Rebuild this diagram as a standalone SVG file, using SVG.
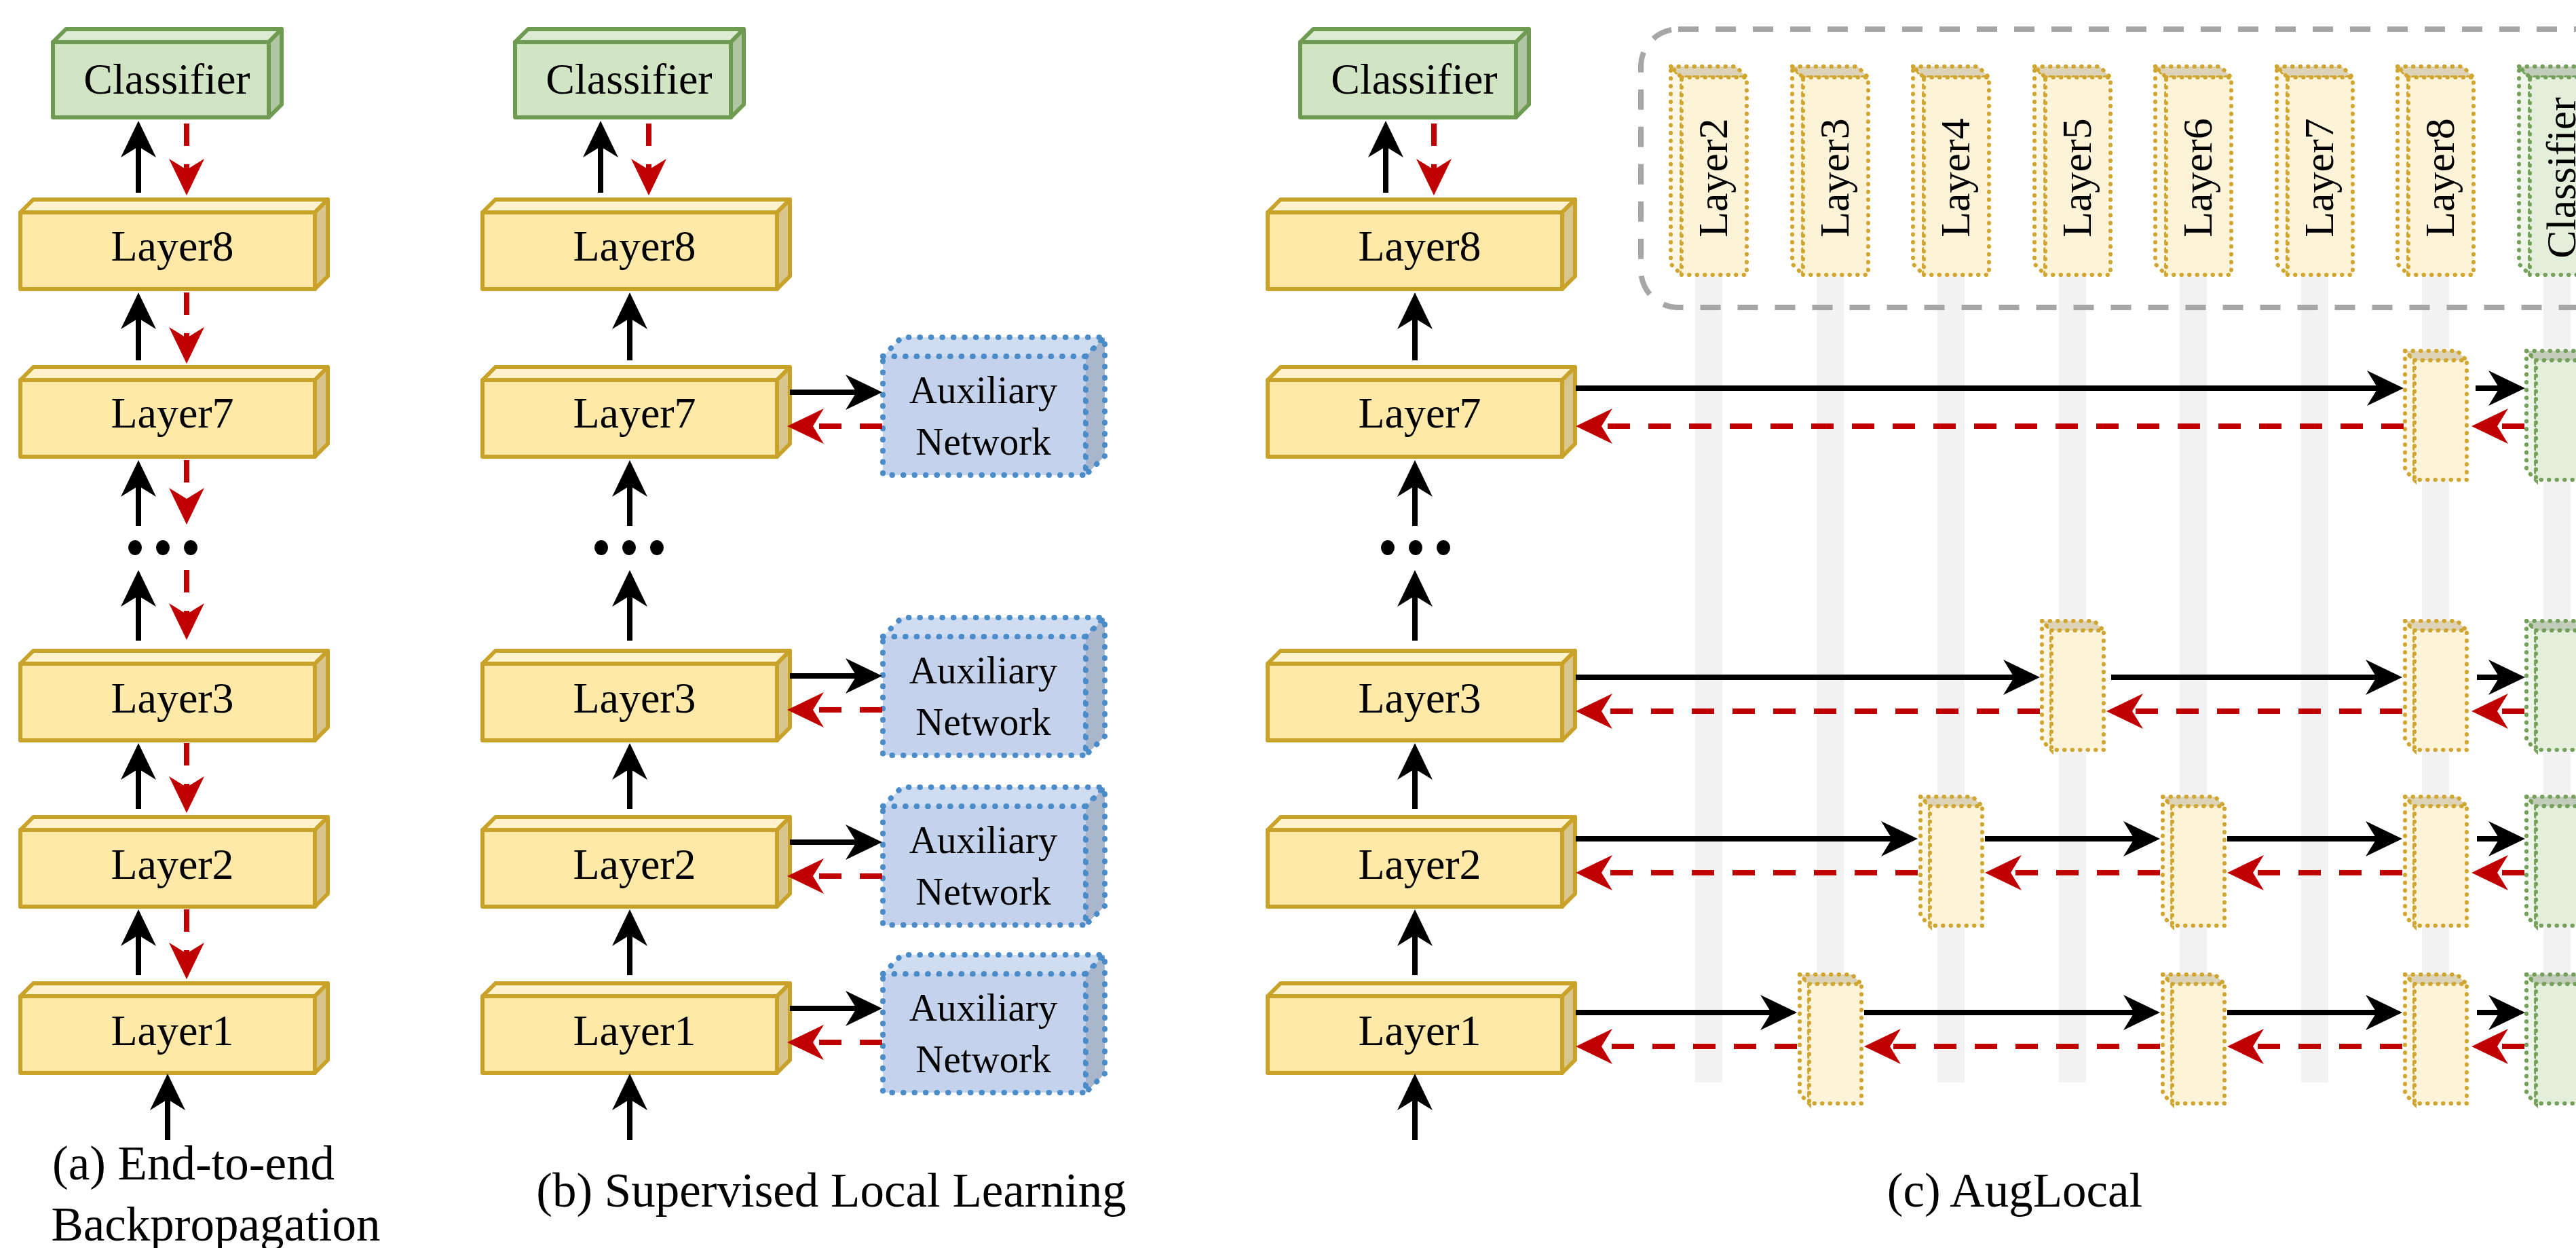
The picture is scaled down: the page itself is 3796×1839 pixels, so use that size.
<svg xmlns="http://www.w3.org/2000/svg" width="3796" height="1839" viewBox="0 0 3796 1839">
<style>
.t{font-family:"Liberation Serif","Times New Roman",serif;fill:#000}
.lbl{font-size:64px;text-anchor:middle}
.aux{font-size:57px;text-anchor:middle}
.vl{font-size:62px;text-anchor:middle}
.cap{font-size:71px;text-anchor:middle}
.ls{stroke:#C9A22A;stroke-width:6;stroke-linejoin:round}
.lf{fill:#FFE9A8}.lt{fill:#FFF2CC}.lr{fill:#D9C68F}
.cs{stroke:#6E9A51;stroke-width:6;stroke-linejoin:round}
.cf{fill:#D1E5C5}.ct{fill:#DDEBD4}.cr{fill:#B0C6A3}
.as{stroke:#4A8CC9;stroke-width:8;stroke-linecap:round;stroke-dasharray:0.5 16}
.af{fill:#C4D3EB}.at{fill:#D0DDF0}.ar{fill:#A9B6CC}
.ys{stroke:#D1A630;stroke-width:6;stroke-linecap:round;stroke-dasharray:0.5 11}
.yf{fill:#FDF3D9}.yt{fill:#DCD3B8}.yl{fill:#FEF7E6}
.gs{stroke:#74A05A;stroke-width:6;stroke-linecap:round;stroke-dasharray:0.5 11}
.gf{fill:#E3EFDB}.gt{fill:#C2CCBA}.gl{fill:#EEF5E9}
.bk{fill:none;stroke:#000;stroke-width:8}
.rd{fill:none;stroke:#C00000;stroke-width:8;stroke-dasharray:33 27}
.bar{fill:#F2F2F2}
.dot{fill:#000}
</style>
<defs>
<marker id="mb" markerUnits="userSpaceOnUse" markerWidth="60" markerHeight="60" refX="16" refY="26" orient="auto" overflow="visible"><path d="M0,0L54,26L0,52L16,26Z" fill="#000"/></marker>
<marker id="mr" markerUnits="userSpaceOnUse" markerWidth="60" markerHeight="60" refX="16" refY="26" orient="auto" overflow="visible"><path d="M0,0L54,26L0,52L16,26Z" fill="#C00000"/></marker>
<g id="cubeL">
<path class="lf ls" d="M0,19H434V132H0Z"/>
<path class="lt ls" d="M0,19L19,0H453L434,19Z"/>
<path class="lr ls" d="M434,19L453,0V113L434,132Z"/>
</g>
<g id="cubeC">
<path class="cf cs" d="M0,19H318V130H0Z"/>
<path class="ct cs" d="M0,19L19,0H337L318,19Z"/>
<path class="cr cs" d="M318,19L337,0V111L318,130Z"/>
</g>
<g id="cubeA">
<path class="af as" d="M0,28H299V203H0Z"/>
<path class="at as" d="M0,28L28,0H327L299,28Z"/>
<path class="ar as" d="M299,28L327,0V175L299,203Z"/>
</g>
<g id="vbY">
<path class="yl ys" d="M0,0L16,16V307L0,291Z"/>
<path class="yt ys" d="M0,0H96L112,16H16Z"/>
<path class="yf ys" d="M16,16H112V307H16Z"/>
</g>
<g id="vbG">
<path class="gl gs" d="M0,0L16,16V307L0,291Z"/>
<path class="gt gs" d="M0,0H96L112,16H16Z"/>
<path class="gf gs" d="M16,16H112V307H16Z"/>
</g>
<g id="vsY">
<path class="yl ys" d="M0,0L14,14V190L0,176Z"/>
<path class="yt ys" d="M0,0H77L91,14H14Z"/>
<path class="yf ys" d="M14,14H91V190H14Z"/>
</g>
<g id="vsG">
<path class="gl gs" d="M0,0L14,14V190L0,176Z"/>
<path class="gt gs" d="M0,0H77L91,14H14Z"/>
<path class="gf gs" d="M14,14H91V190H14Z"/>
</g>
</defs>

<g id="c-bars">
<rect class="bar" x="2498" y="370" width="40" height="1225"/>
<rect class="bar" x="2677" y="370" width="40" height="1225"/>
<rect class="bar" x="2855" y="370" width="40" height="1225"/>
<rect class="bar" x="3034" y="370" width="40" height="1225"/>
<rect class="bar" x="3212" y="370" width="40" height="1225"/>
<rect class="bar" x="3391" y="370" width="40" height="1225"/>
<rect class="bar" x="3569" y="370" width="40" height="1225"/>
<rect class="bar" x="3748" y="370" width="40" height="1225"/>
</g>

<g id="c-group-frame">
<rect x="2418" y="43" width="1500" height="410" rx="55" ry="55" fill="none" stroke="#A6A6A6" stroke-width="8" stroke-dasharray="30 25"/>
</g>

<g id="a-classifier"><use href="#cubeC" x="78" y="43"/><text class="t lbl" x="246" y="138">Classifier</text></g>
<g id="a-layer8"><use href="#cubeL" x="30" y="294"/><text class="t lbl" x="254" y="384">Layer8</text></g>
<g id="a-layer7"><use href="#cubeL" x="30" y="541"/><text class="t lbl" x="254" y="630">Layer7</text></g>
<g id="a-dots"><ellipse class="dot" cx="199" cy="807" rx="10" ry="11"/><ellipse class="dot" cx="240" cy="807" rx="10" ry="11"/><ellipse class="dot" cx="281" cy="807" rx="10" ry="11"/></g>
<g id="a-layer3"><use href="#cubeL" x="30" y="959"/><text class="t lbl" x="254" y="1050">Layer3</text></g>
<g id="a-layer2"><use href="#cubeL" x="30" y="1204"/><text class="t lbl" x="254" y="1295">Layer2</text></g>
<g id="a-layer1"><use href="#cubeL" x="30" y="1449"/><text class="t lbl" x="254" y="1540">Layer1</text></g>

<g id="b-classifier"><use href="#cubeC" x="759" y="43"/><text class="t lbl" x="927" y="138">Classifier</text></g>
<g id="b-layer8"><use href="#cubeL" x="711" y="294"/><text class="t lbl" x="935" y="384">Layer8</text></g>
<g id="b-layer7"><use href="#cubeL" x="711" y="541"/><text class="t lbl" x="935" y="630">Layer7</text></g>
<g id="b-dots"><ellipse class="dot" cx="886" cy="807" rx="10" ry="11"/><ellipse class="dot" cx="927" cy="807" rx="10" ry="11"/><ellipse class="dot" cx="968" cy="807" rx="10" ry="11"/></g>
<g id="b-layer3"><use href="#cubeL" x="711" y="959"/><text class="t lbl" x="935" y="1050">Layer3</text></g>
<g id="b-layer2"><use href="#cubeL" x="711" y="1204"/><text class="t lbl" x="935" y="1295">Layer2</text></g>
<g id="b-layer1"><use href="#cubeL" x="711" y="1449"/><text class="t lbl" x="935" y="1540">Layer1</text></g>
<g id="b-aux7"><use href="#cubeA" x="1301" y="497"/><text class="t aux" x="1449" y="594">Auxiliary</text><text class="t aux" x="1449" y="670">Network</text></g>
<g id="b-aux3"><use href="#cubeA" x="1301" y="910"/><text class="t aux" x="1449" y="1007">Auxiliary</text><text class="t aux" x="1449" y="1083">Network</text></g>
<g id="b-aux2"><use href="#cubeA" x="1301" y="1160"/><text class="t aux" x="1449" y="1257">Auxiliary</text><text class="t aux" x="1449" y="1333">Network</text></g>
<g id="b-aux1"><use href="#cubeA" x="1301" y="1407"/><text class="t aux" x="1449" y="1504">Auxiliary</text><text class="t aux" x="1449" y="1580">Network</text></g>

<g id="c-classifier"><use href="#cubeC" x="1916" y="43"/><text class="t lbl" x="2084" y="138">Classifier</text></g>
<g id="c-layer8"><use href="#cubeL" x="1868" y="294"/><text class="t lbl" x="2092" y="384">Layer8</text></g>
<g id="c-layer7"><use href="#cubeL" x="1868" y="541"/><text class="t lbl" x="2092" y="630">Layer7</text></g>
<g id="c-dots"><ellipse class="dot" cx="2045" cy="807" rx="10" ry="11"/><ellipse class="dot" cx="2086" cy="807" rx="10" ry="11"/><ellipse class="dot" cx="2127" cy="807" rx="10" ry="11"/></g>
<g id="c-layer3"><use href="#cubeL" x="1868" y="959"/><text class="t lbl" x="2092" y="1050">Layer3</text></g>
<g id="c-layer2"><use href="#cubeL" x="1868" y="1204"/><text class="t lbl" x="2092" y="1295">Layer2</text></g>
<g id="c-layer1"><use href="#cubeL" x="1868" y="1449"/><text class="t lbl" x="2092" y="1540">Layer1</text></g>

<g id="c-top-layer2"><use href="#vbY" x="2462" y="98"/><text class="t vl" transform="translate(2524,262) rotate(-90)" y="21">Layer2</text></g>
<g id="c-top-layer3"><use href="#vbY" x="2641" y="98"/><text class="t vl" transform="translate(2703,262) rotate(-90)" y="21">Layer3</text></g>
<g id="c-top-layer4"><use href="#vbY" x="2819" y="98"/><text class="t vl" transform="translate(2881,262) rotate(-90)" y="21">Layer4</text></g>
<g id="c-top-layer5"><use href="#vbY" x="2998" y="98"/><text class="t vl" transform="translate(3060,262) rotate(-90)" y="21">Layer5</text></g>
<g id="c-top-layer6"><use href="#vbY" x="3176" y="98"/><text class="t vl" transform="translate(3238,262) rotate(-90)" y="21">Layer6</text></g>
<g id="c-top-layer7"><use href="#vbY" x="3355" y="98"/><text class="t vl" transform="translate(3417,262) rotate(-90)" y="21">Layer7</text></g>
<g id="c-top-layer8"><use href="#vbY" x="3533" y="98"/><text class="t vl" transform="translate(3595,262) rotate(-90)" y="21">Layer8</text></g>
<g id="c-top-classifier"><use href="#vbG" x="3712" y="98"/><text class="t vl" transform="translate(3774,262) rotate(-90)" y="21">Classifier</text></g>

<g id="c-r7-layer8"><use href="#vsY" x="3544" y="517"/></g>
<g id="c-r7-classifier"><use href="#vsG" x="3723" y="517"/></g>
<g id="c-r3-layer5"><use href="#vsY" x="3009" y="915"/></g>
<g id="c-r3-layer8"><use href="#vsY" x="3544" y="915"/></g>
<g id="c-r3-classifier"><use href="#vsG" x="3723" y="915"/></g>
<g id="c-r2-layer4"><use href="#vsY" x="2830" y="1174"/></g>
<g id="c-r2-layer6"><use href="#vsY" x="3187" y="1174"/></g>
<g id="c-r2-layer8"><use href="#vsY" x="3544" y="1174"/></g>
<g id="c-r2-classifier"><use href="#vsG" x="3723" y="1174"/></g>
<g id="c-r1-layer3"><use href="#vsY" x="2652" y="1436"/></g>
<g id="c-r1-layer6"><use href="#vsY" x="3187" y="1436"/></g>
<g id="c-r1-layer8"><use href="#vsY" x="3544" y="1436"/></g>
<g id="c-r1-classifier"><use href="#vsG" x="3723" y="1436"/></g>

<g id="connectors">
<path class="bk" marker-end="url(#mb)" d="M204,284V216"/>
<path class="rd" marker-end="url(#mr)" d="M275,182V250"/>
<path class="bk" marker-end="url(#mb)" d="M204,531V469"/>
<path class="rd" marker-end="url(#mr)" d="M275,431V498"/>
<path class="bk" marker-end="url(#mb)" d="M204,775V716"/>
<path class="rd" marker-end="url(#mr)" d="M275,678V735"/>
<path class="bk" marker-end="url(#mb)" d="M204,944V878"/>
<path class="rd" marker-end="url(#mr)" d="M275,840V905"/>
<path class="bk" marker-end="url(#mb)" d="M204,1192V1133"/>
<path class="rd" marker-end="url(#mr)" d="M275,1095V1160"/>
<path class="bk" marker-end="url(#mb)" d="M204,1437V1378"/>
<path class="rd" marker-end="url(#mr)" d="M275,1340V1405"/>
<path class="bk" marker-end="url(#mb)" d="M247,1680V1620"/>
<path class="bk" marker-end="url(#mb)" d="M885,284V216"/>
<path class="rd" marker-end="url(#mr)" d="M956,182V250"/>
<path class="bk" marker-end="url(#mb)" d="M928,531V469"/>
<path class="bk" marker-end="url(#mb)" d="M928,775V716"/>
<path class="bk" marker-end="url(#mb)" d="M928,944V878"/>
<path class="bk" marker-end="url(#mb)" d="M928,1192V1133"/>
<path class="bk" marker-end="url(#mb)" d="M928,1437V1378"/>
<path class="bk" marker-end="url(#mb)" d="M928,1680V1620"/>
<path class="bk" marker-end="url(#mb)" d="M1164,578H1262"/>
<path class="rd" marker-end="url(#mr)" d="M1300,628H1198"/>
<path class="bk" marker-end="url(#mb)" d="M1164,996H1262"/>
<path class="rd" marker-end="url(#mr)" d="M1300,1046H1198"/>
<path class="bk" marker-end="url(#mb)" d="M1164,1241H1262"/>
<path class="rd" marker-end="url(#mr)" d="M1300,1291H1198"/>
<path class="bk" marker-end="url(#mb)" d="M1164,1486H1262"/>
<path class="rd" marker-end="url(#mr)" d="M1300,1536H1198"/>
<path class="bk" marker-end="url(#mb)" d="M2042,284V216"/>
<path class="rd" marker-end="url(#mr)" d="M2113,182V250"/>
<path class="bk" marker-end="url(#mb)" d="M2085,531V469"/>
<path class="bk" marker-end="url(#mb)" d="M2085,775V716"/>
<path class="bk" marker-end="url(#mb)" d="M2085,944V878"/>
<path class="bk" marker-end="url(#mb)" d="M2085,1192V1133"/>
<path class="bk" marker-end="url(#mb)" d="M2085,1437V1378"/>
<path class="bk" marker-end="url(#mb)" d="M2085,1680V1620"/>
<path class="bk" marker-end="url(#mb)" d="M2322,572H3504"/>
<path class="bk" marker-end="url(#mb)" d="M3648,572H3683"/>
<path class="rd" marker-end="url(#mr)" d="M3542,628H2360"/>
<path class="rd" marker-end="url(#mr)" d="M3720,628H3680"/>
<path class="bk" marker-end="url(#mb)" d="M2322,998H2968"/>
<path class="bk" marker-end="url(#mb)" d="M3111,998H3502"/>
<path class="bk" marker-end="url(#mb)" d="M3650,998H3683"/>
<path class="rd" marker-end="url(#mr)" d="M3006,1048H2360"/>
<path class="rd" marker-end="url(#mr)" d="M3540,1048H3142"/>
<path class="rd" marker-end="url(#mr)" d="M3720,1048H3680"/>
<path class="bk" marker-end="url(#mb)" d="M2322,1236H2788"/>
<path class="bk" marker-end="url(#mb)" d="M2925,1236H3145"/>
<path class="bk" marker-end="url(#mb)" d="M3282,1236H3502"/>
<path class="bk" marker-end="url(#mb)" d="M3650,1236H3683"/>
<path class="rd" marker-end="url(#mr)" d="M2826,1286H2360"/>
<path class="rd" marker-end="url(#mr)" d="M3183,1286H2963"/>
<path class="rd" marker-end="url(#mr)" d="M3540,1286H3320"/>
<path class="rd" marker-end="url(#mr)" d="M3720,1286H3680"/>
<path class="bk" marker-end="url(#mb)" d="M2322,1492H2610"/>
<path class="bk" marker-end="url(#mb)" d="M2747,1492H3145"/>
<path class="bk" marker-end="url(#mb)" d="M3282,1492H3502"/>
<path class="bk" marker-end="url(#mb)" d="M3650,1492H3683"/>
<path class="rd" marker-end="url(#mr)" d="M2648,1542H2360"/>
<path class="rd" marker-end="url(#mr)" d="M3183,1542H2785"/>
<path class="rd" marker-end="url(#mr)" d="M3540,1542H3320"/>
<path class="rd" marker-end="url(#mr)" d="M3720,1542H3680"/>
</g>

<g id="captions">
<text class="t cap" x="285" y="1738">(a) End-to-end</text>
<text class="t cap" x="318" y="1828">Backpropagation</text>
<text class="t cap" x="1225" y="1778">(b) Supervised Local Learning</text>
<text class="t cap" x="2969" y="1778">(c) AugLocal</text>
</g>
</svg>
